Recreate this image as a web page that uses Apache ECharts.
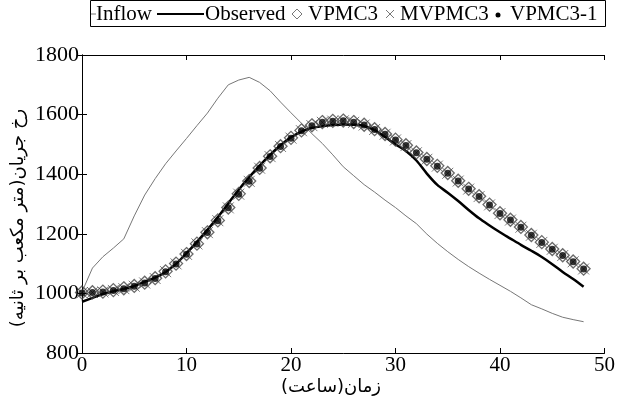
<!DOCTYPE html>
<html>
<head>
<meta charset="utf-8">
<script src="https://cdn.jsdelivr.net/npm/echarts@6/dist/echarts.min.js"></script>
<style>
html,body{margin:0;padding:0;background:#fff;}
#c{width:618px;height:405px;}
</style>
</head>
<body>
<div id="c"></div>
<script>
var hours = [0,1,2,3,4,5,6,7,8,9,10,11,12,13,14,15,16,17,18,19,20,21,22,23,24,25,26,27,28,29,30,31,32,33,34,35,36,37,38,39,40,41,42,43,44,45,46,47,48];
var inflow = [1005,1085,1123,1152,1183,1260,1330,1385,1435,1478,1520,1563,1605,1655,1700,1716,1725,1708,1680,1642,1606,1571,1536,1503,1465,1425,1395,1365,1340,1313,1288,1260,1234,1199,1168,1140,1114,1090,1068,1047,1027,1007,985,962,948,933,920,912,905];
var observed = [972,985,998,1007,1015,1025,1039,1053,1072,1099,1135,1173,1213,1256,1302,1348,1390,1429,1465,1497,1524,1543,1555,1561,1565,1567,1566,1562,1548,1525,1500,1478,1446,1402,1364,1338,1310,1280,1252,1228,1205,1184,1163,1143,1122,1098,1072,1048,1022];
var vpmc3 = [1003,1004,1006,1011,1017,1025,1036,1051,1074,1100,1132,1167,1205,1245,1288,1334,1377,1421,1460,1494,1522,1547,1564,1575,1579,1580,1575,1566,1551,1535,1516,1497,1473,1451,1428,1404,1378,1351,1326,1298,1269,1247,1223,1196,1172,1149,1128,1107,1083];
var mvpmc3 = [1002,1003,1005,1010,1016,1024,1035,1050,1073,1099,1131,1166,1204,1244,1287,1333,1376,1420,1459,1493,1521,1546,1563,1574,1578,1579,1574,1565,1550,1534,1515,1496,1472,1450,1427,1403,1377,1350,1325,1297,1268,1246,1222,1195,1171,1148,1127,1106,1082];
var vpmc31 = [1001,1003,1005,1010,1016,1024,1035,1050,1073,1099,1131,1166,1204,1244,1287,1333,1376,1420,1459,1493,1521,1546,1563,1574,1578,1579,1574,1565,1550,1534,1515,1496,1472,1450,1427,1403,1377,1350,1325,1297,1268,1246,1222,1195,1171,1148,1127,1106,1082];
var legendNames = ['Inflow','Observed','VPMC3','MVPMC3','VPMC3-1'];
var xTitle = 'زمان(ساعت)';
var yTitle = 'رخ جریان(متر مکعب بر ثانیه)';

function pairs(arr){ return hours.map(function(h,i){ return [h, arr[i]]; }); }

var serif = '"Liberation Serif","Times New Roman","DejaVu Serif",serif';
var arabicFont = '"DejaVu Sans","Liberation Serif",sans-serif';

var chart = echarts.init(document.getElementById('c'), null, {renderer:'canvas'});
var axisLine = {show:true, lineStyle:{color:'#000', width:1}};
var tick = {show:true, inside:true, length:5, lineStyle:{color:'#000', width:1}};
function plain(v){ return String(v); }

var option = {
  animation:false,
  backgroundColor:'#fff',
  grid:{left:82, right:9, top:55, bottom:52, containLabel:false},
  xAxis:[
    {type:'value', min:0, max:50, interval:10, position:'bottom',
     axisLine:axisLine, axisTick:tick, splitLine:{show:false},
     axisLabel:{color:'#000', fontFamily:serif, fontSize:21, margin:2, formatter:plain}},
    {type:'value', min:0, max:50, interval:10, position:'top',
     axisLine:axisLine, axisTick:tick, splitLine:{show:false}, axisLabel:{show:false}}
  ],
  yAxis:[
    {type:'value', min:800, max:1800, interval:200, position:'left',
     axisLine:axisLine, axisTick:tick, splitLine:{show:false},
     axisLabel:{color:'#000', fontFamily:serif, fontSize:22, margin:3, formatter:plain}},
    {type:'value', min:800, max:1800, interval:200, position:'right',
     axisLine:axisLine, axisTick:tick, splitLine:{show:false}, axisLabel:{show:false}}
  ],
  series:[
    {name:legendNames[0], type:'line', data:pairs(inflow), symbol:'none',
     lineStyle:{color:'#777', width:1}, z:2},
    {name:legendNames[1], type:'line', data:pairs(observed), symbol:'none', smooth:0.3,
     lineStyle:{color:'#000', width:2.5}, z:3},
    {name:legendNames[2], type:'scatter', data:pairs(vpmc3), symbol:'diamond', symbolSize:13,
     itemStyle:{color:'rgba(0,0,0,0)', borderColor:'#444', borderWidth:1.3}, z:4},
    {name:legendNames[3], type:'scatter', data:pairs(mvpmc3), symbol:'path://M0,0L10,10M10,0L0,10', symbolSize:11,
     itemStyle:{color:'rgba(0,0,0,0)', borderColor:'#333', borderWidth:0.8}, z:5},
    {name:legendNames[4], type:'scatter', data:pairs(vpmc31), symbol:'circle', symbolSize:7,
     itemStyle:{color:'#000'}, z:6}
  ],
  graphic:[
    {type:'rect', shape:{x:90.5, y:0.5, width:515, height:26}, style:{fill:'#fff', stroke:'#000', lineWidth:1}, z:10},
    {type:'line', shape:{x1:91, y1:14, x2:96, y2:14}, style:{stroke:'#777', lineWidth:1}, z:11},
    {type:'text', x:96, y:14, style:{text:legendNames[0], font:'21px '+serif, fill:'#000', textVerticalAlign:'middle'}, z:11},
    {type:'line', shape:{x1:157, y1:14, x2:204, y2:14}, style:{stroke:'#000', lineWidth:2}, z:11},
    {type:'text', x:205, y:14, style:{text:legendNames[1], font:'21px '+serif, fill:'#000', textVerticalAlign:'middle'}, z:11},
    {type:'polygon', shape:{points:[[297,9],[302,14],[297,19],[292,14]]}, style:{fill:'none', stroke:'#777', lineWidth:1}, z:11},
    {type:'text', x:308, y:14, style:{text:legendNames[2], font:'21px '+serif, fill:'#000', textVerticalAlign:'middle'}, z:11},
    {type:'line', shape:{x1:386, y1:10, x2:394, y2:18}, style:{stroke:'#777', lineWidth:1}, z:11},
    {type:'line', shape:{x1:394, y1:10, x2:386, y2:18}, style:{stroke:'#777', lineWidth:1}, z:11},
    {type:'text', x:400, y:14, style:{text:legendNames[3], font:'21px '+serif, fill:'#000', textVerticalAlign:'middle'}, z:11},
    {type:'circle', shape:{cx:498, cy:15, r:2.5}, style:{fill:'#000'}, z:11},
    {type:'text', x:510, y:14, style:{text:legendNames[4], font:'21px '+serif, fill:'#000', textVerticalAlign:'middle'}, z:11},
    {type:'text', x:331, y:387, style:{text:xTitle, font:'18px '+arabicFont, fill:'#000', textAlign:'center', textVerticalAlign:'middle'}, z:11},
    {type:'text', x:18, y:218, rotation:Math.PI/2, style:{text:yTitle, font:'18px '+arabicFont, fill:'#000', textAlign:'center', textVerticalAlign:'middle'}, z:11}
  ]
};
chart.setOption(option);
</script>
</body>
</html>
